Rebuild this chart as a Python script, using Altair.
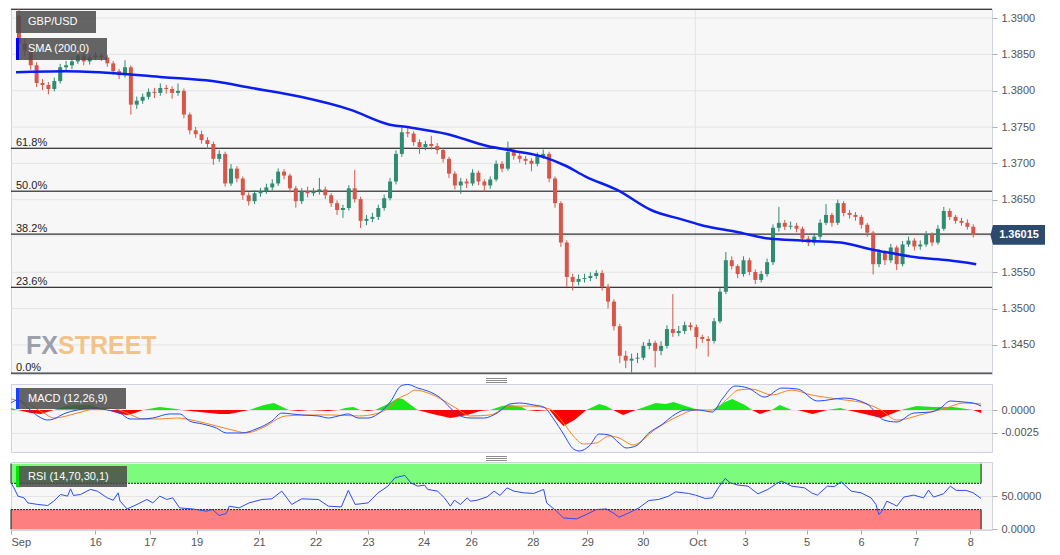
import json
import altair as alt
import numpy as np
import pandas as pd

# ------------------------------------------------------------------ data
first_open = 1.39030
closes = [
    1.38648, 1.38553, 1.38350, 1.38106, 1.38079, 1.38024, 1.38133, 1.38323, 1.38350, 1.38404,
    1.38485, 1.38404, 1.38458, 1.38485, 1.38458, 1.38377, 1.38268, 1.38214, 1.38323, 1.37808,
    1.37862, 1.37916, 1.37984, 1.37970, 1.38038, 1.38024, 1.37970, 1.37997, 1.37672, 1.37455,
    1.37401, 1.37320, 1.37266, 1.37062, 1.37130, 1.36723, 1.36927, 1.36791, 1.36561, 1.36479,
    1.36588, 1.36615, 1.36669, 1.36723, 1.36886, 1.36832, 1.36656, 1.36479, 1.36615, 1.36588,
    1.36615, 1.36642, 1.36561, 1.36452, 1.36358, 1.36385, 1.36656, 1.36507, 1.36208, 1.36236,
    1.36263, 1.36385, 1.36520, 1.36750, 1.37130, 1.37428, 1.37410, 1.37293, 1.37225, 1.37266,
    1.37238, 1.37184, 1.37062, 1.36859, 1.36696, 1.36750, 1.36723, 1.36872, 1.36750, 1.36696,
    1.36778, 1.36994, 1.36927, 1.37157, 1.37103, 1.37062, 1.37035, 1.36994, 1.37103, 1.37130,
    1.36791, 1.36452, 1.35910, 1.35436, 1.35368, 1.35409, 1.35422, 1.35449, 1.35490, 1.35300,
    1.35097, 1.34758, 1.34351, 1.34284, 1.34311, 1.34324, 1.34487, 1.34528, 1.34419, 1.34487,
    1.34718, 1.34664, 1.34691, 1.34772, 1.34745, 1.34609, 1.34582, 1.34555, 1.34826, 1.35233,
    1.35666, 1.35585, 1.35476, 1.35666, 1.35504, 1.35395, 1.35476, 1.35639, 1.36113, 1.36181,
    1.36127, 1.36140, 1.36100, 1.35964, 1.35910, 1.35991, 1.36181, 1.36290, 1.36181, 1.36452,
    1.36317, 1.36290, 1.36263, 1.36154, 1.36046, 1.35612, 1.35775, 1.35666, 1.35842, 1.35612,
    1.35883, 1.35937, 1.35856, 1.35883, 1.36018, 1.35910, 1.36100, 1.36344, 1.36263, 1.36208,
    1.36181, 1.36127, 1.36015]
highs = [
    1.39122, 1.38720, 1.38600, 1.38390, 1.38160, 1.38120, 1.38180, 1.38370, 1.38410, 1.38450,
    1.38540, 1.38520, 1.38500, 1.38530, 1.38520, 1.38490, 1.38410, 1.38300, 1.38420, 1.38350,
    1.37920, 1.37960, 1.38030, 1.38040, 1.38100, 1.38080, 1.38060, 1.38100, 1.38030, 1.37700,
    1.37500, 1.37450, 1.37360, 1.37300, 1.37180, 1.37160, 1.36990, 1.36960, 1.36820, 1.36600,
    1.36630, 1.36660, 1.36720, 1.36780, 1.36930, 1.36920, 1.36860, 1.36690, 1.36660, 1.36680,
    1.36660, 1.36800, 1.36680, 1.36590, 1.36490, 1.36430, 1.36700, 1.36910, 1.36540, 1.36290,
    1.36320, 1.36430, 1.36570, 1.36800, 1.37180, 1.37500, 1.37490, 1.37440, 1.37330, 1.37310,
    1.37380, 1.37280, 1.37210, 1.37090, 1.36890, 1.36800, 1.36790, 1.36920, 1.36900, 1.36780,
    1.36820, 1.37040, 1.37030, 1.37300, 1.37200, 1.37140, 1.37100, 1.37070, 1.37150, 1.37190,
    1.37160, 1.36820, 1.36480, 1.35940, 1.35480, 1.35470, 1.35480, 1.35500, 1.35530, 1.35530,
    1.35340, 1.35130, 1.34790, 1.34420, 1.34380, 1.34390, 1.34540, 1.34580, 1.34560, 1.34550,
    1.34770, 1.35200, 1.34760, 1.34820, 1.34810, 1.34780, 1.34640, 1.34620, 1.34870, 1.35280,
    1.35780, 1.35720, 1.35610, 1.35720, 1.35700, 1.35540, 1.35520, 1.35690, 1.36160, 1.36400,
    1.36220, 1.36200, 1.36180, 1.36130, 1.36000, 1.36040, 1.36230, 1.36440, 1.36320, 1.36500,
    1.36480, 1.36360, 1.36330, 1.36290, 1.36180, 1.36070, 1.35820, 1.35800, 1.35890, 1.35870,
    1.35930, 1.35990, 1.35970, 1.35940, 1.36070, 1.36050, 1.36150, 1.36400, 1.36380, 1.36290,
    1.36250, 1.36230, 1.36160]
lows = [
    1.38560, 1.38470, 1.38290, 1.38050, 1.38010, 1.37950, 1.37990, 1.38100, 1.38260, 1.38300,
    1.38370, 1.38350, 1.38360, 1.38420, 1.38410, 1.38330, 1.38220, 1.38160, 1.38180, 1.37670,
    1.37750, 1.37820, 1.37880, 1.37900, 1.37930, 1.37960, 1.37890, 1.37930, 1.37620, 1.37400,
    1.37350, 1.37270, 1.37200, 1.36980, 1.37020, 1.36680, 1.36690, 1.36740, 1.36500, 1.36420,
    1.36440, 1.36540, 1.36580, 1.36630, 1.36690, 1.36780, 1.36600, 1.36390, 1.36440, 1.36530,
    1.36550, 1.36570, 1.36510, 1.36400, 1.36290, 1.36250, 1.36350, 1.36460, 1.36110, 1.36150,
    1.36190, 1.36220, 1.36350, 1.36490, 1.36710, 1.37090, 1.37360, 1.37240, 1.37130, 1.37180,
    1.37190, 1.37130, 1.37010, 1.36800, 1.36640, 1.36580, 1.36660, 1.36690, 1.36700, 1.36610,
    1.36650, 1.36750, 1.36880, 1.36900, 1.37050, 1.37010, 1.36980, 1.36890, 1.36960, 1.37060,
    1.36740, 1.36390, 1.35850, 1.35300, 1.35250, 1.35320, 1.35360, 1.35380, 1.35410, 1.35250,
    1.35000, 1.34700, 1.34250, 1.34180, 1.34120, 1.34250, 1.34290, 1.34440, 1.34190, 1.34360,
    1.34450, 1.34610, 1.34620, 1.34650, 1.34700, 1.34450, 1.34530, 1.34340, 1.34520, 1.34800,
    1.35200, 1.35540, 1.35420, 1.35440, 1.35460, 1.35340, 1.35360, 1.35440, 1.35600, 1.36060,
    1.36080, 1.36090, 1.36050, 1.35910, 1.35860, 1.35870, 1.35950, 1.36150, 1.36130, 1.36150,
    1.36270, 1.36240, 1.36210, 1.36100, 1.35990, 1.35470, 1.35570, 1.35600, 1.35630, 1.35530,
    1.35580, 1.35850, 1.35800, 1.35810, 1.35850, 1.35860, 1.35880, 1.36070, 1.36220, 1.36170,
    1.36140, 1.36090, 1.35980]

sma_bar = [-0.5, 7.8, 16.2, 24.5, 32.8, 39.5, 47.8, 56.2, 62.8, 66.2, 72.8, 79.5, 84.0, 89.5,
           92.8, 96.2, 101.7, 107.3, 112.8, 116.2, 121.7, 127.3, 132.8, 139.5, 144.0, 147.3,
           152.3, 157.8, 162.5]
sma_val = [1.38255, 1.38268, 1.38241, 1.38187, 1.38133, 1.38038, 1.37916, 1.37740, 1.37536,
           1.37496, 1.37401, 1.37238, 1.37171, 1.37076, 1.36967, 1.36818, 1.36628, 1.36358,
           1.36222, 1.36141, 1.36059, 1.35964, 1.35937, 1.35910, 1.35829, 1.35775, 1.35707,
           1.35666, 1.35612]

macd_bar = [-0.5, 0.67, 2.33, 4.0, 5.67, 6.67, 8.33, 10.67, 13.33, 15.67, 17.83, 19.5, 21.17,
            23.33, 26.17, 27.83, 29.5, 31.67, 34.0, 35.67, 38.33, 40.67, 43.33, 45.0, 46.67,
            48.33, 51.17, 52.83, 54.5, 56.17, 57.83, 59.5, 61.17, 63.33, 65.0, 66.17, 67.83,
            69.5, 71.67, 73.33, 75.0, 76.67, 79.0, 81.17, 83.33, 85.0, 87.33, 89.0, 90.67,
            92.33, 94.0, 95.0, 96.67, 98.33, 100.0, 101.67, 102.83, 104.5, 106.67, 109.0,
            110.67, 112.83, 115.0, 117.33, 119.0, 121.17, 123.33, 126.17, 129.0, 131.67, 135.0,
            139.5, 143.33, 146.17, 148.33, 151.17, 154.0, 155.67, 157.33, 159.5, 161.17, 162.5]
macd_val = [0.00076, 0.00109, 0.00022, -0.00065, -0.00109, -0.00098, -0.00043, 0.0, 0.00022,
            0.0, -0.00033, -0.00098, -0.00098, -0.00087, -0.00043, -0.00043, -0.00120, -0.00152,
            -0.00196, -0.00250, -0.00250, -0.00207, -0.00120, -0.00033, -0.00043, -0.00054,
            -0.00065, -0.00087, -0.00065, -0.00043, -0.00087, -0.00087, -0.00043, 0.00098,
            0.00261, 0.00278, 0.00239, 0.00207, 0.00130, 0.00022, -0.00065, -0.00087, -0.00087,
            -0.00033, 0.00065, 0.00076, 0.00054, 0.00033, -0.00098, -0.00261, -0.00424,
            -0.00446, -0.00391, -0.00261, -0.00272, -0.00359, -0.00413, -0.00391, -0.00250,
            -0.00152, -0.00065, 0.0, 0.0, -0.00022, 0.00120, 0.00261, 0.00239, 0.00141, 0.00239,
            0.00228, 0.00098, 0.00130, 0.00065, -0.00109, -0.00130, -0.00033, -0.00022, 0.00022,
            0.00098, 0.00087, 0.00076, 0.00043]

signal_bar = [-0.5, 2.33, 5.0, 6.67, 10.67, 13.33, 16.17, 19.0, 21.67, 24.5, 27.33, 30.67, 34.0,
              37.33, 39.0, 41.67, 45.67, 49.5, 53.33, 57.83, 60.67, 63.33, 64.5, 66.17, 67.33,
              70.0, 72.33, 74.5, 76.67, 80.0, 83.33, 86.67, 90.0, 92.33, 94.0, 95.67, 97.83,
              100.0, 101.67, 104.0, 107.83, 111.67, 114.5, 117.33, 120.0, 121.67, 124.0, 127.33,
              130.67, 134.0, 138.33, 143.33, 145.67, 148.33, 152.83, 156.67, 159.5, 162.5]
signal_val = [0.00120, 0.00065, -0.00033, -0.00087, -0.00033, 0.00011, 0.00022, -0.00033,
              -0.00098, -0.00098, -0.00087, -0.00120, -0.00174, -0.00228, -0.00250, -0.00196,
              -0.00065, -0.00054, -0.00054, -0.00065, -0.00043, 0.00043, 0.00120, 0.00174,
              0.00217, 0.00174, 0.00098, 0.00011, -0.00065, -0.00054, 0.00043, 0.00043, 0.00011,
              -0.00141, -0.00283, -0.00370, -0.00359, -0.00283, -0.00304, -0.00380, -0.00207,
              -0.00065, 0.0, 0.0, 0.00130, 0.00217, 0.00228, 0.00163, 0.00217, 0.00163, 0.00120,
              0.00065, 0.0, -0.00109, -0.00043, 0.00022, 0.00076, 0.00065]

hist_bar = [-0.5, 0.67, 2.83, 4.5, 6.67, 8.67, 10.33, 12.83, 15.67, 17.83, 19.0, 20.33, 21.67,
            24.5, 27.33, 28.17, 31.17, 34.5, 36.17, 39.5, 42.0, 43.67, 46.17, 47.83, 49.5, 52.83,
            54.5, 55.67, 57.0, 58.17, 59.5, 60.67, 62.83, 64.5, 65.33, 67.83, 70.33, 73.33,
            76.17, 78.33, 80.0, 82.0, 83.33, 85.33, 86.17, 87.83, 90.0, 91.17, 92.33, 94.17,
            96.17, 98.33, 99.5, 100.67, 102.33, 104.5, 107.83, 109.5, 110.83, 112.83, 115.0,
            117.33, 119.5, 120.67, 122.83, 124.0, 125.33, 127.33, 128.67, 130.67, 131.67,
            134.17, 136.67, 138.83, 140.0, 143.67, 145.67, 147.83, 149.0, 151.67, 154.5, 157.83,
            161.17, 162.5]
hist_val = [0.00022, 0.0, -0.00033, -0.00043, 0.0, 0.00043, 0.00054, 0.00054, 0.0, -0.00043,
            -0.00054, -0.00033, 0.0, 0.00033, 0.00011, 0.0, -0.00022, -0.00043, -0.00043, 0.0,
            0.00054, 0.00076, 0.0, -0.00011, 0.0, -0.00011, 0.0, 0.00022, 0.00033, 0.0,
            -0.00011, 0.0, 0.00065, 0.00130, 0.00120, 0.0, -0.00043, -0.00087, -0.00054,
            -0.00011, 0.0, 0.00043, 0.00054, 0.00033, 0.0, -0.00011, 0.0, -0.00098, -0.00174,
            -0.00109, 0.0, 0.00065, 0.00043, 0.0, -0.00054, 0.0, 0.00076, 0.00065, 0.00087,
            0.00043, 0.0, 0.0, 0.00087, 0.00120, 0.00054, 0.0, -0.00043, 0.0, 0.00054, 0.0, 0.0,
            -0.00043, 0.0, 0.00022, 0.0, -0.00054, -0.00087, -0.00033, 0.0, 0.00043, 0.00033,
            0.00033, 0.0, -0.00033]

rsi_bar = [-0.5, 0.0, 0.67, 1.67, 2.33, 4.0, 5.67, 6.67, 7.83, 9.0,
           9.5, 10.0, 11.17, 12.83, 14.0, 15.67, 16.67, 17.5, 17.83, 19.0,
           20.67, 22.33, 23.33, 24.5, 25.67, 26.67, 27.83, 30.0, 32.33, 33.33,
           34.5, 35.67, 36.17, 37.83, 39.5, 41.67, 43.33, 45.0, 46.67, 48.33,
           51.17, 52.83, 55.0, 56.17, 57.33, 59.5, 61.17, 62.83, 64.0, 65.67,
           66.67, 67.83, 69.0, 69.5, 71.17, 72.33, 73.33, 74.0, 75.0, 76.17,
           76.67, 77.83, 79.5, 80.67, 81.67, 82.83, 84.0, 85.67, 87.33, 89.0,
           89.5, 91.17, 92.33, 94.5, 96.17, 97.83, 99.5, 100.67, 101.67, 103.33,
           105.0, 106.67, 108.33, 110.0, 111.17, 113.33, 114.5, 116.17, 117.33, 118.33,
           119.5, 120.33, 121.67, 123.33, 125.0, 126.67, 128.33, 129.0, 130.67, 132.83,
           134.0, 135.0, 136.67, 137.83, 139.0, 140.67, 142.33, 144.0, 144.83, 145.33,
           145.83, 146.67, 147.83, 148.33, 149.5, 151.17, 152.83, 153.67, 154.5, 156.17,
           157.33, 158.33, 160.0, 161.17, 162.5]
rsi_val = [70.8, 63.0, 50.5, 48.0, 40.2, 37.8, 36.2, 42.8, 53.0, 50.5,
           61.6, 51.5, 53.0, 60.7, 58.1, 47.9, 44.3, 55.5, 42.8, 31.0,
           37.8, 45.4, 40.2, 50.5, 45.4, 47.9, 32.6, 31.0, 27.5, 30.1,
           21.0, 24.0, 35.2, 32.6, 40.2, 45.4, 46.4, 58.1, 37.8, 46.4,
           45.4, 35.2, 34.1, 59.2, 37.8, 40.2, 55.5, 65.7, 78.4, 82.1,
           70.8, 65.7, 67.3, 60.7, 58.1, 47.9, 35.2, 44.3, 37.8, 47.9,
           42.8, 44.3, 49.4, 58.1, 51.5, 63.1, 58.1, 55.5, 54.6, 60.7,
           40.2, 27.5, 17.3, 15.8, 22.5, 30.1, 31.0, 25.0, 18.3, 25.0,
           32.6, 43.8, 45.4, 50.5, 57.0, 54.6, 52.0, 46.9, 47.9, 63.1,
           77.5, 70.8, 67.3, 65.7, 54.0, 60.7, 70.8, 73.2, 65.7, 63.1,
           55.5, 52.0, 65.7, 65.0, 72.3, 58.1, 55.5, 47.9, 37.8, 22.5,
           27.5, 42.8, 37.8, 35.2, 49.0, 52.0, 47.9, 59.7, 49.0, 54.0,
           65.7, 59.2, 59.2, 55.5, 46.9]

fib_labels = ["0.0%", "23.6%", "38.2%", "50.0%", "61.8%", "100.0%"]
fib_values = [1.34112, 1.35294, 1.36026, 1.36617, 1.37208, 1.39122]

tick_labels = ["Sep", "16", "17", "19", "21", "22", "23", "24", "26", "28", "29", "30",
               "Oct", "3", "5", "6", "7", "8"]
tick_bars = [-0.5, 13.67, 22.83, 30.67, 41.17, 50.67, 59.5, 68.83, 76.83, 87.17, 96.33,
             105.67, 114.83, 122.83, 133.17, 142.33, 151.5, 160.67]

# 1.3600 is hidden behind the last-price tag in the original
price_ticks = [1.345, 1.350, 1.355, 1.365, 1.370, 1.375, 1.380, 1.385, 1.390]
price_grid = [1.345, 1.350, 1.355, 1.360, 1.365, 1.370, 1.375, 1.380, 1.385, 1.390]
macd_ticks = [-0.0025, 0.0]
rsi_ticks = [0.0, 50.0]
rsi_upper = [70.0, 100.0]
rsi_lower = [0.0, 30.0]
last_price = 1.36015

panel_titles = ["GBP/USD", "SMA (200,0)", "MACD (12,26,9)", "RSI (14,70,30,1)"]
watermark_parts = ["FX", "STREET"]

# ------------------------------------------------------------------ styling
FONT = "Liberation Sans"
GREEN = "#2f8b72"
RED = "#d6574a"
W, HP, HI = 981, 365, 68
X_DOMAIN = [-0.5, 164.33]
BOX = "#4a4a4a"
GRID = "#e4e4e4"

# ------------------------------------------------------------------ tables
n = len(closes)
candles = pd.DataFrame({
    "bar": np.arange(n),
    "open": [first_open] + closes[:-1],
    "close": closes,
    "high": highs,
    "low": lows,
})
candles["dir"] = np.where(candles["close"] >= candles["open"], "up", "down")

sma_df = pd.DataFrame({"bar": sma_bar, "sma": sma_val})
macd_df = pd.DataFrame({"bar": macd_bar, "v": macd_val})
signal_df = pd.DataFrame({"bar": signal_bar, "v": signal_val})
hist_df = pd.DataFrame({"bar": hist_bar, "v": hist_val})
hist_df["pos"] = hist_df["v"].clip(lower=0)
hist_df["neg"] = hist_df["v"].clip(upper=0)
rsi_df = pd.DataFrame({"bar": rsi_bar, "v": rsi_val})
fib_df = pd.DataFrame({"label": fib_labels, "level": fib_values})
fib_txt_df = fib_df[fib_df["label"] != "100.0%"]
grid_df = pd.DataFrame({"level": price_grid})
oct_df = pd.DataFrame({"bar": [tick_bars[tick_labels.index("Oct")]]})
one = pd.DataFrame({"k": [0]})

x0, x1 = -0.5, n - 0.5
band_df = pd.DataFrame({"x0": [x0, x0], "x1": [x1, x1],
                        "lo": [rsi_upper[0], rsi_lower[0]],
                        "hi": [rsi_upper[1], rsi_lower[1]],
                        "kind": ["over", "under"]})
edge_df = pd.DataFrame({"x": [x0, x1, x0, x1],
                        "lo": [rsi_upper[0], rsi_upper[0], rsi_lower[0], rsi_lower[0]],
                        "hi": [rsi_upper[1], rsi_upper[1], rsi_lower[1], rsi_lower[1]]})
lvl_df = pd.DataFrame({"x0": [x0, x0], "x1": [x1, x1], "lvl": [rsi_upper[0], rsi_lower[1]]})

# ------------------------------------------------------------------ scales / axes
xs = alt.Scale(domain=X_DOMAIN, nice=False, zero=False)


def xf(field, axis=None):
    return alt.X(field, type="quantitative", scale=xs, axis=axis, title=None)


def yaxis(values, grid=True, **kw):
    return alt.Axis(orient="right", values=values, grid=grid, gridColor=GRID,
                    tickSize=5, tickColor="#b0b0b0", domain=False, labelColor="#555555",
                    labelFontSize=11, labelFont=FONT, labelPadding=4, title=None, **kw)


ys_p = alt.Scale(domain=[1.3410, 1.39125], nice=False, zero=False)
yax_p = yaxis(price_ticks, grid=False, format=".4f")
ys_m = alt.Scale(domain=[-0.00457, 0.00283], nice=False, zero=False)
yax_m = yaxis(macd_ticks, labelExpr="replace(format(datum.value, '.4f'), '\u2212', '-')")
ys_r = alt.Scale(domain=[-1.1, 102.5], nice=False, zero=False)
yax_r = yaxis(rsi_ticks, format=".4f")


def yp(field):
    return alt.Y(field, type="quantitative", scale=ys_p, axis=yax_p, title=None)


def ym(field):
    return alt.Y(field, type="quantitative", scale=ys_m, axis=yax_m, title=None)


def yr(field):
    return alt.Y(field, type="quantitative", scale=ys_r, axis=yax_r, title=None)


label_expr = ("%s[indexof(%s, datum.value)]" % (json.dumps(tick_labels), json.dumps(tick_bars)))
xax_r = alt.Axis(values=tick_bars, labelExpr=label_expr, grid=False, domain=False, ticks=True,
                 tickSize=4, tickColor="#aaaaaa", labelColor="#555555", labelFontSize=11,
                 labelFont=FONT, labelPadding=2, labelFlush=True, labelOverlap=False, title=None)


def title_box(text, y0, y1, x1_, bar_color=None):
    layers = [alt.Chart(one).mark_rect(color=BOX, opacity=0.85).encode(
        x=alt.value(5), x2=alt.value(x1_), y=alt.value(y0), y2=alt.value(y1))]
    if bar_color:
        layers.append(alt.Chart(one).mark_rect(color=bar_color).encode(
            x=alt.value(5), x2=alt.value(8), y=alt.value(y0), y2=alt.value(y1)))
    layers.append(alt.Chart(pd.DataFrame({"t": [text]})).mark_text(
        align="left", baseline="middle", color="white", fontSize=11, font=FONT).encode(
        x=alt.value(17), y=alt.value((y0 + y1) / 2), text="t:N"))
    return layers


def handle(h):
    return [alt.Chart(one).mark_rule(color="#8c8c8c", strokeWidth=1).encode(
        x=alt.value(475), x2=alt.value(496), y=alt.value(h + off)) for off in (4.5, 6.5, 8.5)]


# ------------------------------------------------------------------ price panel
color_enc = alt.Color("dir:N", scale=alt.Scale(domain=["up", "down"], range=[GREEN, RED]),
                      legend=None)
grid_p = alt.Chart(grid_df).mark_rule(color=GRID, strokeWidth=1).encode(y=yp("level"))
oct_rule_p = alt.Chart(oct_df).mark_rule(color=GRID).encode(x=xf("bar"))
fib_rules = alt.Chart(fib_df).mark_rule(color="black", strokeWidth=1).encode(y=yp("level"))
fib_text = alt.Chart(fib_txt_df).mark_text(
    align="left", baseline="alphabetic", dy=-2, fontSize=11, font=FONT, color="#222222"
).encode(x=alt.value(5), y=yp("level"), text="label:N")
wicks = alt.Chart(candles).mark_rule(strokeWidth=1).encode(
    x=xf("bar"), y=yp("low"), y2="high", color=color_enc)
bodies = alt.Chart(candles).mark_bar(size=4).encode(
    x=xf("bar"), y=yp("open"), y2="close", color=color_enc)
sma_line = alt.Chart(sma_df).mark_line(color="#0a1ef2", strokeWidth=2.5,
                                        interpolate="monotone").encode(x=xf("bar"), y=yp("sma"))
WM_SIZE = 25
wm1 = alt.Chart(pd.DataFrame({"t": [watermark_parts[0]]})).mark_text(
    align="left", baseline="alphabetic", fontSize=WM_SIZE, fontWeight="bold", font=FONT,
    color="#9ba0aa").encode(x=alt.value(15), y=alt.value(345), text="t:N")
wm2 = alt.Chart(pd.DataFrame({"t": [watermark_parts[1]]})).mark_text(
    align="left", baseline="alphabetic", fontSize=WM_SIZE, fontWeight="bold", font=FONT,
    color="#f2c489").encode(x=alt.value(47), y=alt.value(345), text="t:N")

tag_df = pd.DataFrame({"p": [last_price], "t": ["%.5f" % last_price]})
tag_shape = "M-1.1,0L-1,-0.38L1,-0.38L1,0.38L-1,0.38Z"
tag = alt.Chart(tag_df).mark_point(shape=tag_shape, filled=True, size=2704, color="#2c4a6d",
                                   opacity=1).encode(x=alt.value(W + 27), y=yp("p"))
tag_text = alt.Chart(tag_df).mark_text(color="white", fontSize=11, fontWeight="bold", font=FONT,
                                       baseline="middle").encode(
    x=alt.value(W + 27), y=yp("p"), text="t:N")

price = alt.layer(
    grid_p, oct_rule_p, fib_rules, wicks, bodies, sma_line, fib_text, wm1, wm2,
    *title_box(panel_titles[0], 2, 24, 85),
    *title_box(panel_titles[1], 29, 51, 96, "#0000ff"),
    tag, tag_text, *handle(HP)
).properties(width=W, height=HP)

# ------------------------------------------------------------------ MACD panel
oct_rule_m = alt.Chart(oct_df).mark_rule(color=GRID).encode(x=xf("bar"))
hist_pos = alt.Chart(hist_df).mark_area(color="#18e818").encode(
    x=xf("bar"), y=ym("pos"), y2=alt.datum(0))
hist_neg = alt.Chart(hist_df).mark_area(color="#ff0000").encode(
    x=xf("bar"), y=ym("neg"), y2=alt.datum(0))
sig_line = alt.Chart(signal_df).mark_line(color="#ff7f1e", strokeWidth=1,
                                          interpolate="monotone").encode(x=xf("bar"), y=ym("v"))
macd_line = alt.Chart(macd_df).mark_line(color="#1f4cff", strokeWidth=1,
                                         interpolate="monotone").encode(x=xf("bar"), y=ym("v"))
macd = alt.layer(
    oct_rule_m, hist_pos, hist_neg, sig_line, macd_line,
    *title_box(panel_titles[2], 4, 25, 115, "#1540ff"),
    *handle(HI)
).properties(width=W, height=HI)

# ------------------------------------------------------------------ RSI panel
oct_rule_r = alt.Chart(oct_df).mark_rule(color=GRID).encode(x=xf("bar", xax_r))
band_over = alt.Chart(band_df[band_df["kind"] == "over"]).mark_rect(color="#7cfb7c").encode(
    x=xf("x0", xax_r), x2="x1", y=yr("lo"), y2="hi")
band_under = alt.Chart(band_df[band_df["kind"] == "under"]).mark_rect(color="#fd7f7f").encode(
    x=xf("x0", xax_r), x2="x1", y=yr("lo"), y2="hi")
edges = alt.Chart(edge_df).mark_rule(color="#1a1a1a", strokeWidth=1).encode(
    x=xf("x", xax_r), y=yr("lo"), y2="hi")
levels = alt.Chart(lvl_df).mark_rule(color="#222222", strokeWidth=1, strokeDash=[2, 1]).encode(
    x=xf("x0", xax_r), x2="x1", y=yr("lvl"))
rsi_line = alt.Chart(rsi_df).mark_line(color="#2a4df0", strokeWidth=1).encode(
    x=xf("bar", xax_r), y=yr("v"))
rsi = alt.layer(
    oct_rule_r, band_over, band_under, edges, levels, rsi_line,
    *title_box(panel_titles[3], 4, 25, 116, "#00e600")
).properties(width=W, height=HI)

chart = alt.vconcat(price, macd, rsi, spacing=10, bounds="flush").properties(
    padding=0, background="white"
).configure_view(stroke="#cfd3df", fill="#f7f7f7")

chart.save("out.html", embed_options={"renderer": "svg", "actions": False})
